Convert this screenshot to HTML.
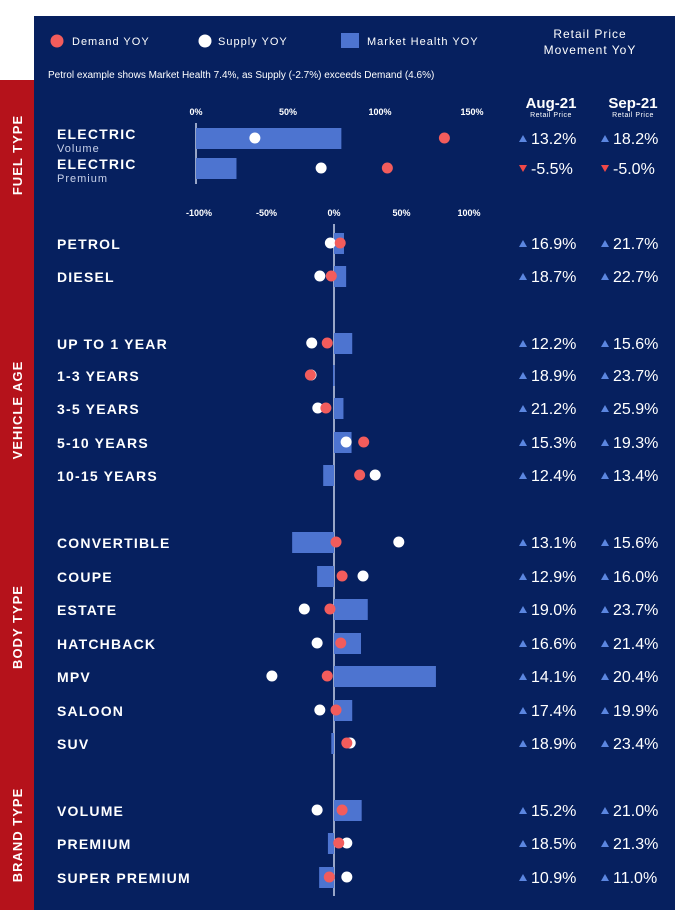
<!DOCTYPE html>
<html><head><meta charset="utf-8"><style>
body{margin:0;width:675px;height:910px;overflow:hidden;background:#fff;font-family:"Liberation Sans",sans-serif}
svg{display:block}
</style></head><body>
<svg id="c" width="675" height="910" viewBox="0 0 675 910" xmlns="http://www.w3.org/2000/svg">
<rect x="0" y="0" width="675" height="910" fill="#fff"/>
<rect x="34" y="16" width="641" height="894" fill="#06205f"/>
<rect x="0" y="80" width="34" height="830" fill="#b5121b"/>
<g font-size="13" fill="#fff" letter-spacing="1" text-anchor="middle" font-weight="bold">
<text transform="translate(22,155) rotate(-90)">FUEL TYPE</text>
<text transform="translate(22,410) rotate(-90)">VEHICLE AGE</text>
<text transform="translate(22,627) rotate(-90)">BODY TYPE</text>
<text transform="translate(22,835) rotate(-90)">BRAND TYPE</text>
</g>
<g fill="#fff" font-size="11" letter-spacing="1">
<circle cx="57" cy="41" r="6.5" fill="#f25c5c"/>
<text x="72" y="45">Demand YOY</text>
<circle cx="205" cy="41" r="6.5" fill="#fff"/>
<text x="218" y="45">Supply YOY</text>
<rect x="341" y="33" width="18" height="15" fill="#4d74d0"/>
<text x="367" y="45">Market Health YOY</text>
<text x="590" y="38" text-anchor="middle" font-size="12">Retail Price</text>
<text x="590" y="54" text-anchor="middle" font-size="12">Movement YoY</text>
<text x="48" y="78" font-size="10" letter-spacing="0">Petrol example shows Market Health 7.4%, as Supply (-2.7%) exceeds Demand (4.6%)</text>
</g>
<g fill="#fff" text-anchor="middle">
<text x="551" y="108" font-size="15" font-weight="bold">Aug-21</text>
<text x="551" y="117" font-size="7" letter-spacing="0.5">Retail Price</text>
<text x="633" y="108" font-size="15" font-weight="bold">Sep-21</text>
<text x="633" y="117" font-size="7" letter-spacing="0.5">Retail Price</text>
</g>
<g id="chart"></g>
</svg>
<script>
const NS='http://www.w3.org/2000/svg';
// Electric (upper scale)
const evLabels=['ELECTRIC','ELECTRIC'];
const evSub=['Volume','Premium'];
const evHealth=[79,22];
const evSupply=[32,68];
const evDemand=[135,104];
const evAug=[13.2,-5.5];
const evSep=[18.2,-5.0];
const evTicks=[0,50,100,150];
// Main rows (lower scale)
const categories=['PETROL','DIESEL','UP TO 1 YEAR','1-3 YEARS','3-5 YEARS','5-10 YEARS','10-15 YEARS','CONVERTIBLE','COUPE','ESTATE','HATCHBACK','MPV','SALOON','SUV','VOLUME','PREMIUM','SUPER PREMIUM'];
const health=[7.4,9,13.5,-0.75,7,13,-8,-31,-12.5,25,20,75.5,13.5,-2,20.5,-4.5,-11];
const supply=[-2.7,-10.5,-16.5,-17,-12,9,30.5,48,21.5,-22,-12.5,-46,-10.5,12,-12.5,9.5,9.5];
const demand=[4.6,-2,-5,-17.5,-6,22,19,1.5,6,-3,5,-5,1.5,9.5,6,3.5,-3.5];
const aug=[16.9,18.7,12.2,18.9,21.2,15.3,12.4,13.1,12.9,19.0,16.6,14.1,17.4,18.9,15.2,18.5,10.9];
const sep=[21.7,22.7,15.6,23.7,25.9,19.3,13.4,15.6,16.0,23.7,21.4,20.4,19.9,23.4,21.0,21.3,11.0];
const ticks=[-100,-50,0,50,100];
const rowY=[243,276,343,375,408,442,475,542,576,609,643,676,710,743,810,843,877];
const evY=[138,168];

const xU=v=>196+v*1.84;
const xL=v=>334+v*1.35;
const g=document.getElementById('chart');
function mk(t,a,parent){const e=document.createElementNS(NS,t);for(const k in a)e.setAttribute(k,a[k]);(parent||g).appendChild(e);return e;}
function txt(s,a){const e=mk('text',a);e.textContent=s;return e;}

evTicks.forEach(t=>{const e=txt(t+'%',{x:xU(t),y:115,fill:'#fff','font-size':9,'font-weight':'bold','text-anchor':'middle'});

});
ticks.forEach(t=>{const e=txt(t+'%',{x:xL(t),y:216,fill:'#fff','font-size':9,'font-weight':'bold','text-anchor':'middle'});

});

function pct(v,x,y,name){
  const up=v>=0;
  const tri=up?`${x-4},${y-2} ${x+4},${y-2} ${x},${y-9}`:`${x-4},${y-9} ${x+4},${y-9} ${x},${y-2}`;
  const p=mk('polygon',{points:tri,fill:up?'#5b86e0':'#f04848'});
  
  
  const t=txt(v.toFixed(1)+'%',{x:x+8,y:y,fill:'#fff','font-size':16});
  
  
}
function row(label,sub,y,h,s,d,a,sp,xf,i){
  const l=txt(label,{x:57,y:sub?y+1:y+6,fill:'#fff','font-size':14,'font-weight':'bold','letter-spacing':1.2});
  
  
  if(sub){const st=txt(sub,{x:57,y:y+14,fill:'#c9d2ea','font-size':11,'letter-spacing':1});
    
    }
  const bx=Math.min(xf(0),xf(h)),bw=Math.abs(xf(h)-xf(0));
  const b=mk('rect',{x:bx,y:y-10,width:Math.max(bw,1.5),height:21,fill:'#4d74d0'});
  
  
  const c1=mk('circle',{cx:xf(s),cy:y,r:5.5,fill:'#fff'});
  
  
  const c2=mk('circle',{cx:xf(d),cy:y,r:5.5,fill:'#f25c5c'});
  
  
  pct(a,523,y+6,'aug-value-'+i);
  pct(sp,605,y+6,'sep-value-'+i);
}
const ax1=mk('line',{x1:196,y1:123,x2:196,y2:184,stroke:'#c9d2ea','stroke-width':1.5});


const ax2=mk('line',{x1:334,y1:224,x2:334,y2:896,stroke:'#c9d2ea','stroke-width':1.5});


evLabels.forEach((l,i)=>row(l,evSub[i],evY[i],evHealth[i],evSupply[i],evDemand[i],evAug[i],evSep[i],xU,'ev'+i));
categories.forEach((l,i)=>row(l,null,rowY[i],health[i],supply[i],demand[i],aug[i],sep[i],xL,i));
</script>
</body></html>
